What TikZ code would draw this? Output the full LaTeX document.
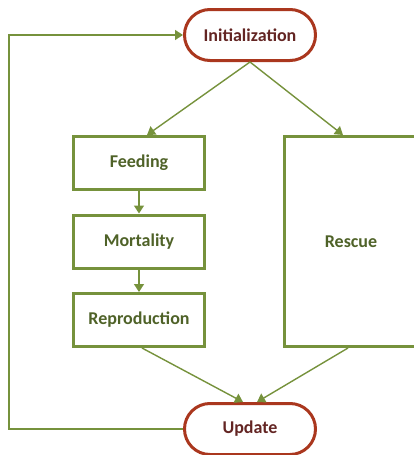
\documentclass[tikz,border=0pt]{standalone}
\usepackage{fontspec}
\setmainfont{Carlito}
\usetikzlibrary{arrows.meta, shapes.misc}

\definecolor{boxgreen}{RGB}{118,146,60}
\definecolor{textgreen}{RGB}{79,98,40}
\definecolor{pillred}{RGB}{170,55,30}
\definecolor{textred}{RGB}{99,37,35}

\begin{document}
\begin{tikzpicture}[x=1pt, y=-1pt]
        \tikzstyle{every node} = [font=\fontsize{18}{21}\selectfont\bfseries]
        \tikzstyle{pill} = [rounded rectangle, draw=pillred, line width=3pt, text=textred,
                minimum width=131pt, minimum height=51pt, inner sep=0pt]
        \tikzstyle{stage} = [rectangle, draw=boxgreen, line width=3pt, text=textgreen,
                minimum width=131pt, minimum height=53pt, inner sep=0pt]
        \tikzstyle{flow} = [draw=boxgreen, line width=1.4pt, -{Triangle[width=10pt, length=8pt]}]

        \useasboundingbox (0,0) rectangle (414,455);

        \def\cola{139}
        \def\colb{250}
        \def\colc{351}

        \node[pill] (init) at (\colb,35) {Initialization};
        \node[stage] (feed) at (\cola,163) {Feeding};
        \node[stage] (mort) at (\cola,241.5) {Mortality};
        \node[stage] (repr) at (\cola,320) {Reproduction};
        \node[stage, minimum width=133pt, minimum height=210pt] (resc) at (\colc,241.5) {Rescue};
        \node[pill] (upd) at (\colb,429) {Update};
        \coordinate (back) at (9,429);

        \draw[flow] (init.south) -- ([xshift=8pt]feed.north);
        \draw[flow] (init.south) -- ([xshift=-8pt]resc.north);
        \draw[flow] (feed.south) -- (mort.north);
        \draw[flow] (mort.south) -- (repr.north);
        \draw[flow] ([xshift=3pt]repr.south) -- ([xshift=-7pt]upd.north);
        \draw[flow] ([xshift=-3pt]resc.south) -- ([xshift=7pt]upd.north);
        \draw[flow] (upd.west) -- (back) |- (init.west);
\end{tikzpicture}
\end{document}
